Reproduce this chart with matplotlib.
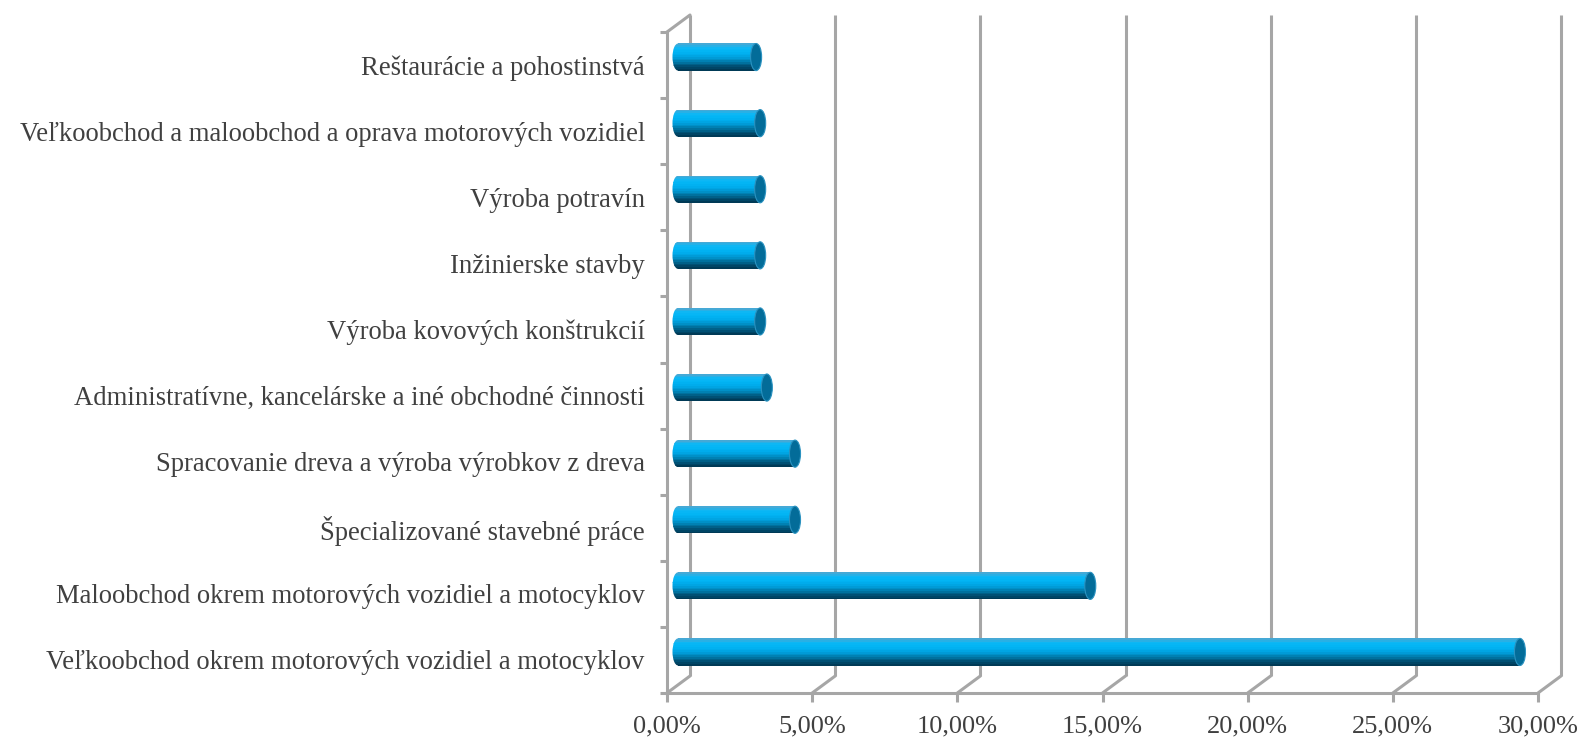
import numpy as np
import matplotlib
matplotlib.use("Agg")
import matplotlib.pyplot as plt
from matplotlib.patches import Ellipse
from matplotlib.transforms import offset_copy
from matplotlib.colors import LinearSegmentedColormap

# data, bottom to top
categories = [
    "Veľkoobchod okrem motorových vozidiel a motocyklov",
    "Maloobchod okrem motorových vozidiel a motocyklov",
    "Špecializované stavebné práce",
    "Spracovanie dreva a výroba výrobkov z dreva",
    "Administratívne, kancelárske a iné obchodné činnosti",
    "Výroba kovových konštrukcií",
    "Inžinierske stavby",
    "Výroba potravín",
    "Veľkoobchod a maloobchod a oprava motorových vozidiel",
    "Reštaurácie a pohostinstvá",
]
values = [29.0, 14.2, 4.03, 4.03, 3.06, 2.83, 2.83, 2.83, 2.83, 2.69]
xticks = [0, 5, 10, 15, 20, 25, 30]
xticklabels = ["0,00%", "5,00%", "10,00%", "15,00%", "20,00%", "25,00%", "30,00%"]

plt.rcParams['font.family'] = ['Liberation Serif', 'DejaVu Serif']
grid_col = '#a6a6a6'
text_col = '#404040'
lw = 2.2

fig = plt.figure(figsize=(15.81, 7.47), dpi=100)
ax = fig.add_axes([667 / 1581, 54 / 747, 871 / 1581, 661 / 747])
ax.set_xlim(0, 30)
ax.set_ylim(-0.5, len(categories) - 0.5)

# depth offsets (pixels): back wall and middle plane for bars
back = offset_copy(ax.transData, fig, x=23, y=17, units='dots')
mid = offset_copy(ax.transData, fig, x=11, y=8, units='dots')

y_lo, y_hi = -0.5, len(categories) - 0.5

# back wall grid lines
for t in xticks:
    ax.plot([t, t], [y_lo, y_hi], transform=back, color=grid_col, lw=lw,
            clip_on=False, zorder=0, solid_capstyle='butt')
    ax.annotate('', xy=(t, y_lo), xycoords=back, xytext=(t, y_lo), textcoords='data',
                arrowprops=dict(arrowstyle='-', color=grid_col, lw=lw, shrinkA=0, shrinkB=0),
                annotation_clip=False)
ax.annotate('', xy=(0, y_hi), xycoords=back, xytext=(0, y_hi), textcoords='data',
            arrowprops=dict(arrowstyle='-', color=grid_col, lw=lw, shrinkA=0, shrinkB=0),
            annotation_clip=False)

# cylinders
shade = LinearSegmentedColormap.from_list(
    'cyl', ['#45a9d6', '#0ab8f6', '#02b4f4', '#00aaea', '#0096d0', '#0076a4', '#005276', '#003a56'])
h = 0.41
ew = 0.38
n = 16
y = np.arange(len(categories))
for yi, v in zip(y, values):
    left = Ellipse((0, yi), ew, h, transform=mid, facecolor='none', edgecolor='none')
    ax.add_patch(left)
    for i in range(n):
        yc = yi + h / 2 - (i + 0.5) * h / n
        c = shade(i / (n - 1))
        body = ax.barh(yc, v, height=h / n * 1.05, left=0, color=c, edgecolor='none', zorder=3)
        end = ax.barh(yc, ew / 2, height=h / n * 1.05, left=-ew / 2, color=c,
                      edgecolor='none', zorder=3)
        for b in body:
            b.set_transform(mid)
            b.set_clip_on(False)
        for b in end:
            b.set_transform(mid)
            b.set_clip_path(left)
    cap = Ellipse((v, yi), ew, h, transform=mid, facecolor='#036c99', edgecolor='#2a92c0',
                  lw=0.8, zorder=4, clip_on=False)
    ax.add_patch(cap)

ax.set_xlim(0, 30)
ax.set_ylim(y_lo, y_hi)

# front axes
for s in ['top', 'right']:
    ax.spines[s].set_visible(False)
for s in ['left', 'bottom']:
    ax.spines[s].set_color(grid_col)
    ax.spines[s].set_linewidth(lw)
    ax.spines[s].set_zorder(1)

ax.set_xticks(xticks)
ax.set_xticklabels(xticklabels, fontsize=19, color=text_col)
ax.tick_params(axis='x', direction='out', length=6.5, width=lw, color=grid_col, pad=10)

ax.set_yticks(y)
ax.set_yticklabels(categories, fontsize=19.2, color=text_col)
ax.set_yticks(np.arange(y_lo, y_hi + 0.01, 1.0), minor=True)
ax.tick_params(axis='y', which='major', length=0, pad=16)
ax.tick_params(axis='y', which='minor', direction='out', length=5, width=lw, color=grid_col)
ax.patch.set_visible(False)

fig.savefig("out.png", dpi=100)
